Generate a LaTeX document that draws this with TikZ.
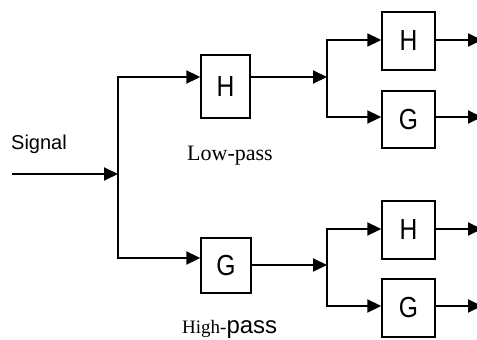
\documentclass[tikz,border=0pt]{standalone}
\usepackage{fontspec}
\setmainfont{Liberation Serif}
\newfontfamily\boxfont{Liberation Sans}[FakeStretch=0.85]
\newfontfamily\plainsans{Liberation Sans}
\usetikzlibrary{arrows.meta}
\begin{document}
\begin{tikzpicture}[x=1pt,y=-1pt,
  wire/.style={line width=2pt, line cap=rect},
  conn/.style={line width=2pt, -{Triangle[length=14pt,width=13pt]}},
  filt/.style={draw, line width=1.4pt, inner sep=0pt,
    font=\boxfont\fontsize{29}{29}\selectfont},
  lbl/.style={anchor=base west, inner sep=0pt}]
\useasboundingbox (0,0) rectangle (477,340);
\clip (0,0) rectangle (477,340);

% first stage
\coordinate (s0) at (12,174);
\coordinate (j0) at (118,174);
\coordinate (t1) at (118,77);
\coordinate (t2) at (118,258);
\node[filt, minimum width=49pt, minimum height=63pt] (h1) at (225.5,86.5) {H};
\node[filt, minimum width=50pt, minimum height=55pt] (g1) at (226,265.5) {G};
\draw[wire] (t1) -- (t2);
\draw[conn] (s0) -- (j0);
\draw[conn] (t1) -- (t1 -| h1.west);
\draw[conn] (t2) -- (t2 -| g1.west);

% upper second stage
\coordinate (j1) at (327,77);
\coordinate (u1) at (327,40);
\coordinate (u2) at (327,117);
\node[filt, minimum width=53pt, minimum height=58pt] (h2) at (408.5,41) {H};
\node[filt, minimum width=53pt, minimum height=57pt] (g2) at (408.5,119.5) {G};
\draw[conn] (j1 -| h1.east) -- (j1);
\draw[wire] (u1) -- (u2);
\draw[conn] (u1) -- (u1 -| h2.west);
\draw[conn] (u2) -- (u2 -| g2.west);
\coordinate (o1) at (482,40);
\coordinate (o2) at (482,117);
\draw[conn] (o1 -| h2.east) -- (o1);
\draw[conn] (o2 -| g2.east) -- (o2);

% lower second stage
\coordinate (j2) at (327,265);
\coordinate (l1) at (327,229);
\coordinate (l2) at (327,306);
\node[filt, minimum width=53pt, minimum height=58pt] (h3) at (408.5,230) {H};
\node[filt, minimum width=53pt, minimum height=58pt] (g3) at (408.5,308) {G};
\draw[conn] (j2 -| g1.east) -- (j2);
\draw[wire] (l1) -- (l2);
\draw[conn] (l1) -- (l1 -| h3.west);
\draw[conn] (l2) -- (l2 -| g3.west);
\coordinate (o3) at (482,229);
\coordinate (o4) at (482,306);
\draw[conn] (o3 -| h3.east) -- (o3);
\draw[conn] (o4 -| g3.east) -- (o4);

% labels
\node[lbl, font=\plainsans\fontsize{20}{20}\selectfont] (sig) at (11,149) {Signal};
\node[lbl, font=\fontsize{22}{22}\selectfont] (lp) at (187,160) {Low-pass};
\node[lbl] (hp) at (182,333) {\fontsize{19}{19}\selectfont High-\plainsans\fontsize{24}{24}\selectfont pass};
\end{tikzpicture}
\end{document}
